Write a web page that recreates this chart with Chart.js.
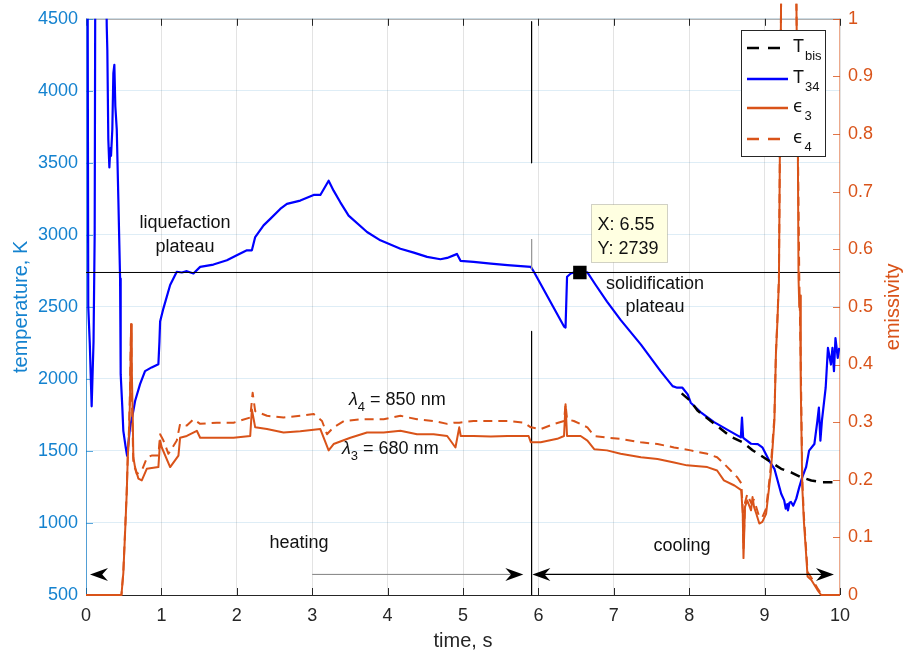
<!DOCTYPE html>
<html><head><meta charset="utf-8">
<script src="https://cdn.jsdelivr.net/npm/chart.js@4.4.1/dist/chart.umd.min.js"></script>
<style>html,body{margin:0;padding:0;background:#fff;}</style>
</head><body>
<canvas id="c" width="907" height="657"></canvas>
<script>
// ---------- tick values / labels ----------
const timeTicks = [0,1,2,3,4,5,6,7,8,9,10];
const timeTickLabels = ['0','1','2','3','4','5','6','7','8','9','10'];
const tempTicks = [500,1000,1500,2000,2500,3000,3500,4000,4500];
const tempTickLabels = ['500','1000','1500','2000','2500','3000','3500','4000','4500'];
const emisTicks = [0,0.1,0.2,0.3,0.4,0.5,0.6,0.7,0.8,0.9,1];
const emisTickLabels = ['0','0.1','0.2','0.3','0.4','0.5','0.6','0.7','0.8','0.9','1'];

// ---------- series: T34 (blue) ----------
const t34Time = [0.02,0.03,0.05,0.075,0.1,0.115,0.125,0.26,0.275,0.283,0.296,0.31,0.322,0.332,0.349,0.363,0.376,0.389,0.408,0.429,0.452,0.46,0.482,0.495,0.527,0.545,0.584,0.628,0.651,0.717,0.783,0.87,0.96,0.974,0.983,1.027,1.116,1.204,1.271,1.337,1.425,1.514,1.69,1.869,2.0,2.134,2.2,2.244,2.355,2.444,2.576,2.665,2.842,3.019,3.108,3.218,3.284,3.373,3.483,3.727,3.904,4.17,4.347,4.524,4.701,4.79,4.9,4.92,4.967,5.14,5.37,5.59,5.9,5.94,6.34,6.36,6.38,6.43,6.47,6.55,6.65,6.76,6.91,7.09,7.36,7.62,7.78,7.84,7.91,7.98,8.02,8.15,8.33,8.55,8.685,8.70,8.715,8.73,8.82,8.91,8.97,9.06,9.13,9.22,9.26,9.28,9.30,9.31,9.33,9.35,9.38,9.42,9.46,9.50,9.55,9.59,9.66,9.70,9.72,9.74,9.76,9.81,9.84,9.88,9.90,9.92,9.94,9.97,9.99];
const t34Temp = [5200,2500,2250,1810,2260,3000,5200,5200,4450,4283,3663,3468,3600,3549,3732,4123,4180,3893,3732,3249,2697,2033,1799,1640,1523,1467,1663,1778,1847,1964,2054,2080,2102,2261,2399,2490,2652,2744,2739,2748,2732,2778,2794,2824,2859,2893,2893,2985,3066,3111,3180,3215,3238,3277,3277,3376,3307,3226,3134,3020,2962,2904,2877,2847,2831,2840,2863,2868,2820,2813,2801,2790,2778,2744,2364,2357,2709,2732,2739,2739,2739,2652,2537,2410,2238,2054,1950,1939,1939,1893,1835,1770,1700,1634,1594,1732,1594,1585,1550,1548,1525,1433,1376,1203,1157,1100,1130,1088,1140,1146,1120,1169,1249,1318,1387,1502,1548,1709,1801,1571,1709,1939,2215,2100,2215,2054,2284,2146,2215];

// ---------- series: Tbis (black dashed) ----------
const tbisTime = [7.9,8.02,8.11,8.33,8.55,8.71,8.84,8.95,9.06,9.22,9.35,9.48,9.62,9.75,9.90];
const tbisTemp = [1900,1845,1780,1690,1600,1560,1505,1468,1430,1376,1352,1318,1295,1283,1283];

// ---------- series: eps3 (orange solid) ----------
const eps3Time = [0,0.47,0.495,0.518,0.54,0.554,0.571,0.584,0.598,0.607,0.62,0.628,0.65,0.695,0.74,0.806,0.96,0.983,1.005,1.116,1.226,1.248,1.337,1.47,1.514,1.736,1.957,2.178,2.2,2.244,2.4,2.62,2.842,3.108,3.218,3.284,3.506,3.727,3.948,4.17,4.39,4.61,4.79,4.90,4.95,4.97,5.14,5.37,5.59,5.87,5.90,6.03,6.25,6.34,6.36,6.38,6.56,6.65,6.74,6.91,7.09,7.36,7.58,7.80,7.97,8.24,8.37,8.46,8.60,8.69,8.71,8.72,8.74,8.77,8.82,8.84,8.86,8.89,8.93,8.97,9.02,9.06,9.08,9.10,9.13,9.15,9.17,9.19,9.21,9.22,9.42,9.44,9.45,9.46,9.47,9.48,9.50,9.52,9.55,9.57,9.62,9.70,9.75,10];
const eps3Val = [0,0,0.038,0.107,0.176,0.239,0.28,0.342,0.47,0.394,0.308,0.239,0.222,0.202,0.199,0.219,0.222,0.268,0.256,0.222,0.242,0.273,0.276,0.285,0.273,0.273,0.273,0.276,0.322,0.291,0.288,0.282,0.284,0.288,0.251,0.262,0.273,0.282,0.282,0.285,0.279,0.279,0.276,0.256,0.291,0.276,0.276,0.275,0.276,0.276,0.265,0.265,0.271,0.276,0.331,0.276,0.276,0.268,0.253,0.251,0.245,0.239,0.236,0.230,0.225,0.222,0.216,0.199,0.190,0.182,0.141,0.064,0.153,0.164,0.147,0.170,0.153,0.141,0.124,0.127,0.141,0.187,0.210,0.245,0.302,0.417,0.475,0.544,0.9,1.05,1.05,0.8,0.55,0.5,0.52,0.36,0.187,0.13,0.072,0.032,0.026,0.009,0,0];

// ---------- series: eps4 (orange dashed) ----------
const eps4Time = [0,0.47,0.495,0.518,0.54,0.554,0.571,0.584,0.598,0.61,0.628,0.673,0.74,0.81,0.87,0.96,0.983,1.027,1.093,1.204,1.248,1.337,1.425,1.514,1.736,1.957,2.178,2.21,2.244,2.4,2.62,2.842,3.02,3.13,3.196,3.284,3.42,3.64,3.948,4.17,4.39,4.61,4.79,4.88,4.95,5.14,5.37,5.59,5.81,5.90,6.03,6.21,6.34,6.36,6.38,6.47,6.65,6.74,6.91,7.09,7.36,7.58,7.80,8.02,8.24,8.37,8.46,8.55,8.64,8.69,8.71,8.72,8.74,8.77,8.82,8.86,8.93,8.97,9.02,9.06,9.08,9.10,9.13,9.15,9.17,9.19,9.21,9.22,9.42,9.44,9.46,9.48,9.50,9.52,9.55,9.57,9.62,9.70,9.76,10];
const eps4Val = [0,0,0.04,0.11,0.18,0.24,0.29,0.36,0.47,0.33,0.229,0.21,0.216,0.239,0.242,0.242,0.279,0.268,0.245,0.268,0.297,0.294,0.305,0.297,0.299,0.299,0.308,0.351,0.319,0.311,0.308,0.311,0.314,0.302,0.279,0.291,0.302,0.305,0.305,0.311,0.305,0.302,0.297,0.299,0.299,0.302,0.302,0.302,0.299,0.291,0.288,0.297,0.302,0.331,0.305,0.302,0.291,0.276,0.273,0.271,0.265,0.262,0.256,0.251,0.245,0.239,0.228,0.216,0.204,0.194,0.15,0.08,0.16,0.175,0.16,0.165,0.135,0.135,0.15,0.195,0.22,0.255,0.31,0.42,0.48,0.55,0.9,1.05,1.05,0.8,0.55,0.4,0.2,0.14,0.08,0.04,0.03,0.012,0,0];

// ---------- reference marks ----------
const plateauTemp = 2739;
const tipTime = 6.55, tipTemp = 2739;
const boundaryTime = 5.91;
const boundaryUpper = [4480, 3500];
const boundaryMiddle = [2970, 2760];
const boundaryLower = [2330, 500];

const FONT = "'Liberation Sans', Arial, Helvetica, sans-serif";
const BLUE_AX = '#1482CF', ORANGE = '#D95319', DARK = '#262626';
const pts = (xs, ys) => xs.map((x, i) => ({x, y: ys[i]}));
const vseg = (t, ys) => ys.map(y => ({x: t, y}));

function arrowHead(ctx, tx, ty, dir, L, W) {
  ctx.beginPath();
  ctx.moveTo(tx, ty);
  ctx.lineTo(tx - dir * L, ty - W / 2);
  ctx.lineTo(tx - dir * L * 0.68, ty);
  ctx.lineTo(tx - dir * L, ty + W / 2);
  ctx.closePath();
  ctx.fill();
}

const notes = [
  {text: 'liquefaction', x: 1.313, y: 3083},
  {text: 'plateau', x: 1.313, y: 2917},
  {text: 'solidification', x: 7.546, y: 2662},
  {text: 'plateau', x: 7.546, y: 2500},
  {text: 'heating', x: 2.825, y: 862},
  {text: 'cooling', x: 7.905, y: 841}
];
const lambdaNotes = [
  {sub: '4', rest: ' = 850 nm', x: 3.488, y: 1852},
  {sub: '3', rest: ' = 680 nm', x: 3.395, y: 1514}
];

const decor = {
  id: 'decor',
  beforeDatasetsDraw(chart) {
    const {ctx, chartArea: a, scales} = chart;
    ctx.save();
    ctx.lineWidth = 1;
    ctx.strokeStyle = 'rgba(38,38,38,0.45)';
    ctx.beginPath(); ctx.moveTo(a.left, a.top + 0.5); ctx.lineTo(a.right, a.top + 0.5); ctx.stroke();
    ctx.strokeStyle = DARK;
    ctx.beginPath(); ctx.moveTo(a.left, a.bottom + 0.5); ctx.lineTo(a.right, a.bottom + 0.5); ctx.stroke();
    timeTicks.forEach(v => {
      const px = Math.round(scales.x.getPixelForValue(v)) + 0.5;
      ctx.strokeStyle = DARK;
      ctx.beginPath(); ctx.moveTo(px, a.bottom); ctx.lineTo(px, a.bottom - 7); ctx.stroke();
      ctx.beginPath(); ctx.moveTo(px, a.top); ctx.lineTo(px, a.top + 7); ctx.stroke();
    });
    ctx.strokeStyle = BLUE_AX;
    ctx.globalAlpha = 0.7;
    ctx.beginPath(); ctx.moveTo(a.left + 0.5, a.top); ctx.lineTo(a.left + 0.5, a.bottom); ctx.stroke();
    tempTicks.forEach(v => {
      const py = Math.round(scales.y.getPixelForValue(v)) + 0.5;
      ctx.beginPath(); ctx.moveTo(a.left, py); ctx.lineTo(a.left + 7, py); ctx.stroke();
    });
    ctx.strokeStyle = ORANGE;
    ctx.globalAlpha = 0.5;
    ctx.beginPath(); ctx.moveTo(a.right - 0.5, a.top); ctx.lineTo(a.right - 0.5, a.bottom); ctx.stroke();
    ctx.globalAlpha = 0.8;
    emisTicks.forEach(v => {
      const py = Math.round(scales.y1.getPixelForValue(v)) + 0.5;
      ctx.beginPath(); ctx.moveTo(a.right, py); ctx.lineTo(a.right - 7, py); ctx.stroke();
    });
    ctx.restore();
  },
  afterDatasetsDraw(chart) {
    const {ctx, chartArea: a, scales} = chart;
    const X = v => scales.x.getPixelForValue(v);
    const Y = v => scales.y.getPixelForValue(v);
    ctx.save();
    ctx.fillStyle = '#111';
    ctx.font = '18px ' + FONT;
    ctx.textAlign = 'center';
    ctx.textBaseline = 'middle';
    notes.forEach(n => ctx.fillText(n.text, X(n.x), Y(n.y)));
    ctx.textAlign = 'left';
    lambdaNotes.forEach(n => {
      let px = X(n.x); const py = Y(n.y);
      ctx.font = 'italic 18px ' + FONT;
      ctx.fillText('λ', px, py);
      px += ctx.measureText('λ').width;
      ctx.font = '13px ' + FONT;
      ctx.fillText(n.sub, px, py + 7);
      px += ctx.measureText(n.sub).width;
      ctx.font = '18px ' + FONT;
      ctx.fillText(n.rest, px, py);
    });
    const ay = Y(643);
    ctx.fillStyle = '#000';
    arrowHead(ctx, X(0.053), ay, -1, 18, 13);
    ctx.strokeStyle = '#808080'; ctx.lineWidth = 1;
    ctx.beginPath(); ctx.moveTo(X(3.0), ay); ctx.lineTo(X(5.80) - 10, ay); ctx.stroke();
    arrowHead(ctx, X(5.80), ay, 1, 18, 13);
    ctx.strokeStyle = '#000'; ctx.lineWidth = 1.4;
    ctx.beginPath(); ctx.moveTo(X(5.92) + 10, ay); ctx.lineTo(X(9.92) - 10, ay); ctx.stroke();
    arrowHead(ctx, X(5.92), ay, -1, 18, 13);
    arrowHead(ctx, X(9.92), ay, 1, 18, 13);
    const tx = X(tipTime), ty = Y(tipTemp);
    const bx = Math.round(tx + 11) + 0.5, by = Math.round(ty - 68) + 0.5;
    ctx.fillStyle = '#FFFFE1';
    ctx.fillRect(bx, by, 76, 58);
    ctx.strokeStyle = 'rgba(0,0,0,0.18)'; ctx.lineWidth = 1;
    ctx.strokeRect(bx, by, 76, 58);
    ctx.fillStyle = '#111';
    ctx.font = '18px ' + FONT;
    ctx.textBaseline = 'alphabetic';
    ctx.textAlign = 'left';
    ctx.fillText('X: ' + tipTime.toFixed(2), bx + 6, by + 25);
    ctx.fillText('Y: ' + tipTemp, bx + 6, by + 49);
    ctx.save();
    ctx.translate(893, (a.top + a.bottom) / 2);
    ctx.rotate(-Math.PI / 2);
    ctx.fillStyle = ORANGE;
    ctx.font = '20px ' + FONT;
    ctx.textAlign = 'center';
    ctx.textBaseline = 'middle';
    ctx.fillText('emissivity', 0, 0);
    ctx.restore();
    const lx = 741.5, ly = 30.5, lw = 84, lh = 126;
    ctx.fillStyle = '#fff';
    ctx.fillRect(lx, ly, lw, lh);
    ctx.strokeStyle = DARK; ctx.lineWidth = 1;
    ctx.strokeRect(lx, ly, lw, lh);
    const entries = [
      {y: 48, color: '#000', dash: [12, 9], w: 2.5, main: 'T', sub: 'bis', eps: false},
      {y: 79, color: '#0000FF', dash: [], w: 2.5, main: 'T', sub: '34', eps: false},
      {y: 108, color: ORANGE, dash: [], w: 2.5, main: 'ϵ', sub: '3', eps: true},
      {y: 139, color: ORANGE, dash: [12, 9], w: 2.5, main: 'ϵ', sub: '4', eps: true}
    ];
    entries.forEach(e => {
      ctx.strokeStyle = e.color; ctx.lineWidth = e.w; ctx.setLineDash(e.dash);
      ctx.beginPath(); ctx.moveTo(747, e.y); ctx.lineTo(788, e.y); ctx.stroke();
      ctx.setLineDash([]);
      ctx.fillStyle = '#111';
      ctx.textAlign = 'left'; ctx.textBaseline = 'alphabetic';
      ctx.font = e.eps ? "17px 'DejaVu Sans', sans-serif" : '18px ' + FONT;
      ctx.fillText(e.main, 793, e.y + 4);
      const w = ctx.measureText(e.main).width;
      ctx.font = '13px ' + FONT;
      ctx.fillText(e.sub, 793 + w + 1, e.y + 12);
    });
    ctx.restore();
  }
};

const tickFont = {family: FONT, size: 18};
const chart = new Chart(document.getElementById('c'), {
  type: 'line',
  data: {
    datasets: [
      {label: 'tip', type: 'scatter', data: [{x: tipTime, y: tipTemp}], yAxisID: 'y',
       pointStyle: 'rect', pointRadius: 9.5, pointBackgroundColor: '#000', pointBorderWidth: 0, showLine: false},
      {label: 'eps3', data: pts(eps3Time, eps3Val), yAxisID: 'y1', borderColor: ORANGE, borderWidth: 2,
       clip: {left: 2, top: 15, right: 2, bottom: 3}},
      {label: 'eps4', data: pts(eps4Time, eps4Val), yAxisID: 'y1', borderColor: ORANGE, borderWidth: 2,
       borderDash: [9, 6], clip: {left: 2, top: 15, right: 2, bottom: 3}},
      {label: 'Tbis', data: pts(tbisTime, tbisTemp), yAxisID: 'y', borderColor: '#000', borderWidth: 2.5, borderDash: [10, 7]},
      {label: 'plateau', data: [{x: 0, y: plateauTemp}, {x: 10, y: plateauTemp}], yAxisID: 'y', borderColor: '#000', borderWidth: 1},
      {label: 'b1', data: vseg(boundaryTime, boundaryUpper), yAxisID: 'y', borderColor: '#000', borderWidth: 1.2},
      {label: 'b2', data: vseg(boundaryTime, boundaryMiddle), yAxisID: 'y', borderColor: '#999', borderWidth: 1},
      {label: 'b3', data: vseg(boundaryTime, boundaryLower), yAxisID: 'y', borderColor: '#000', borderWidth: 1.2},
      {label: 'T34', data: pts(t34Time, t34Temp), yAxisID: 'y', borderColor: '#0000FF', borderWidth: 2.2}
    ]
  },
  options: {
    responsive: false,
    animation: false,
    devicePixelRatio: 1,
    layout: {padding: {top: 15, left: 0, right: 0, bottom: 0}},
    elements: {point: {radius: 0, hitRadius: 0}, line: {tension: 0, fill: false, borderJoinStyle: 'round'}},
    plugins: {legend: {display: false}, tooltip: {enabled: false}},
    events: [],
    scales: {
      x: {
        type: 'linear', min: 0, max: 10,
        afterBuildTicks: s => { s.ticks = timeTicks.map(v => ({value: v})); },
        afterFit: s => { s.height = 62; },
        ticks: {callback: (v, i) => timeTickLabels[i], color: DARK, font: tickFont, padding: 10, maxRotation: 0, autoSkip: false},
        grid: {color: 'rgba(38,38,38,0.13)', drawTicks: false},
        border: {display: false},
        title: {display: true, text: 'time, s', color: DARK, font: {family: FONT, size: 20}, padding: {top: 0, bottom: 4}}
      },
      y: {
        type: 'linear', position: 'left', min: 500, max: 4500,
        afterBuildTicks: s => { s.ticks = tempTicks.map(v => ({value: v})); },
        afterFit: s => { s.width = 86; },
        ticks: {callback: (v, i) => tempTickLabels[i], color: BLUE_AX, font: tickFont, padding: 8, autoSkip: false},
        grid: {color: 'rgba(0,114,189,0.13)', drawTicks: false},
        border: {display: false},
        title: {display: true, text: 'temperature, K', color: BLUE_AX, font: {family: FONT, size: 20}, padding: {top: 9, bottom: 0}}
      },
      y1: {
        type: 'linear', position: 'right', min: 0, max: 1,
        afterBuildTicks: s => { s.ticks = emisTicks.map(v => ({value: v})); },
        afterFit: s => { s.width = 67; },
        ticks: {callback: (v, i) => emisTickLabels[i], color: ORANGE, font: tickFont, padding: 8, autoSkip: false},
        grid: {display: false, drawTicks: false},
        border: {display: false}
      }
    }
  },
  plugins: [decor]
});
</script>
</body></html>
